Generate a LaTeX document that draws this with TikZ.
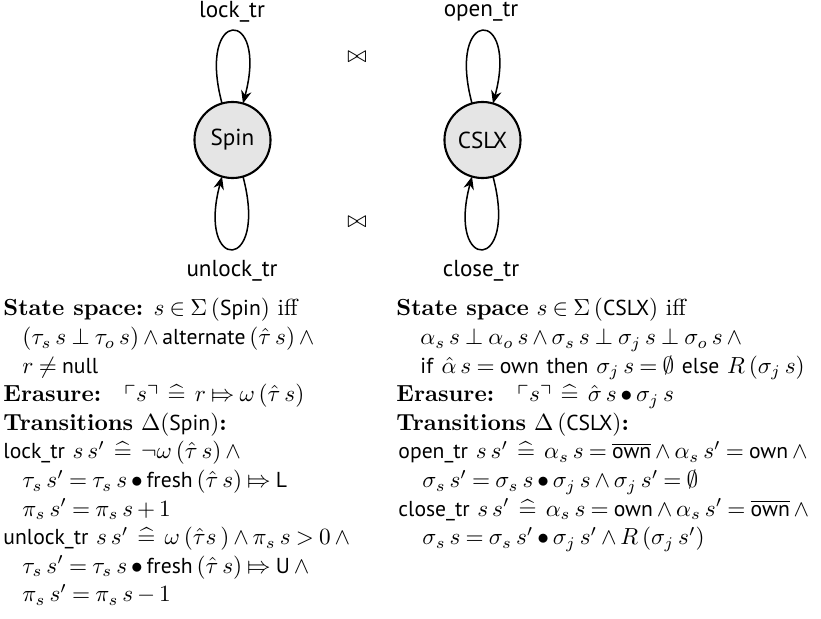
\documentclass[tikz,border=0pt]{standalone}
\usepackage{amsmath,amssymb,stmaryrd}
\usepackage{fontspec}
\setsansfont{PT Sans}[Scale=0.93]
\usetikzlibrary{arrows.meta}
\newcommand{\hateq}{\mathrel{\,\widehat{=}\,}}
\newcommand{\andop}{\wedge{}}
\medmuskip=3mu plus 2mu minus 2mu
\thickmuskip=4mu plus 2mu
\begin{document}
\begin{tikzpicture}[x=0.43pt,y=0.43pt,
  state/.style={circle,draw,line width=0.9pt,fill=black!10,minimum size=32.7pt,inner sep=0pt,outer sep=0pt,font=\fontsize{10.7}{12}\sffamily},
  loopedge/.style={line width=0.65pt,-{Stealth[length=5.5pt,width=4.5pt]}},
  lbl/.style={anchor=base,inner sep=0pt,font=\fontsize{10.7}{12}\sffamily},
  txt/.style={anchor=base west,inner sep=0pt}]
\useasboundingbox (0,0) rectangle (821,-619);
% automata
\node[state] (spin) at (232.5,-140) {Spin};
\node[state] (cslx) at (482.5,-140) {CSLX};
\draw[loopedge] (spin.106) .. controls +(105:100) and +(75:100) .. (spin.74);
\draw[loopedge] (spin.286) .. controls +(285:100) and +(255:100) .. (spin.254);
\draw[loopedge] (cslx.106) .. controls +(105:100) and +(75:100) .. (cslx.74);
\draw[loopedge] (cslx.286) .. controls +(285:100) and +(255:100) .. (cslx.254);
\node[lbl] (lock) at (232,-18) {lock\_tr};
\node[lbl] (unlock) at (232,-277) {unlock\_tr};
\node[lbl] (open) at (481,-17) {open\_tr};
\node[lbl] (close) at (481,-277) {close\_tr};
\node (bt1) at (357,-57) {$\bowtie$};
\node (bt2) at (357,-222) {$\bowtie$};
% left block
\node[txt] (l1) at (3,-316) {\textbf{State space:} $s \in \Sigma\,(\textsf{Spin})$ iff};
\node[txt] (l2) at (22,-344.6) {$(\tau_s\, s \perp \tau_o\, s) \wedge \textsf{alternate}\,(\hat\tau\, s) \andop$};
\node[txt] (l3) at (22,-373.2) {$r \neq \textsf{null}$};
\node[txt] (l4) at (3,-401.8) {\textbf{Erasure:}\quad $\ulcorner s \urcorner \hateq r \Mapsto \omega\,(\hat\tau\, s)$};
\node[txt] (l5) at (3,-430.4) {\textbf{Transitions} $\Delta$(\textsf{Spin})\textbf{:}};
\node[txt] (l6) at (3,-459) {\textsf{lock\_tr} $s\, s' \hateq \neg\omega\,(\hat\tau\, s) \andop$};
\node[txt] (l7) at (22,-487.6) {$\tau_s\, s' = \tau_s\, s \bullet \textsf{fresh}\,(\hat\tau\, s) \Mapsto \textsf{L}$};
\node[txt] (l8) at (22,-516.2) {$\pi_s\, s' = \pi_s\, s + 1$};
\node[txt] (l9) at (3,-544.8) {\textsf{unlock\_tr} $s\, s' \hateq \omega\,(\hat\tau s\,) \wedge \pi_s\, s > 0 \andop$};
\node[txt] (l10) at (22,-573.4) {$\tau_s\, s' = \tau_s\, s \bullet \textsf{fresh}\,(\hat\tau\, s) \Mapsto \textsf{U} \andop$};
\node[txt] (l11) at (22,-602) {$\pi_s\, s' = \pi_s\, s - 1$};
% right block
\node[txt] (r1) at (396,-316) {\textbf{State space} $s \in \Sigma\,(\textsf{CSLX})$ iff};
\node[txt] (r2) at (420,-344.6) {$\alpha_s\, s \perp \alpha_o\, s \wedge \sigma_s\, s \perp \sigma_j\, s \perp \sigma_o\, s \andop$};
\node[txt] (r3) at (420,-373.2) {\textsf{if} $\hat\alpha\, s = \textsf{own}$ \textsf{then} $\sigma_j\, s = \emptyset$ \textsf{else} $R\,(\sigma_j\, s)$};
\node[txt] (r4) at (396,-401.8) {\textbf{Erasure:}\quad $\ulcorner s \urcorner \hateq \hat\sigma\, s \bullet \sigma_j\, s$};
\node[txt] (r5) at (396,-430.4) {\textbf{Transitions} $\Delta\,(\textsf{CSLX})$\textbf{:}};
\node[txt] (r6) at (398,-459) {\textsf{open\_tr} $s\, s' \hateq \alpha_s\, s = \overline{\textsf{own}} \wedge \alpha_s\, s' = \textsf{own} \andop$};
\node[txt] (r7) at (422,-487.6) {$\sigma_s\, s' = \sigma_s\, s \bullet \sigma_j\, s \wedge \sigma_j\, s' = \emptyset$};
\node[txt] (r8) at (398,-516.2) {\textsf{close\_tr} $s\, s' \hateq \alpha_s\, s = \textsf{own} \wedge \alpha_s\, s' = \overline{\textsf{own}} \andop$};
\node[txt] (r9) at (422,-544.8) {$\sigma_s\, s = \sigma_s\, s' \bullet \sigma_j\, s' \wedge R\,(\sigma_j\, s')$};
\end{tikzpicture}
\end{document}
